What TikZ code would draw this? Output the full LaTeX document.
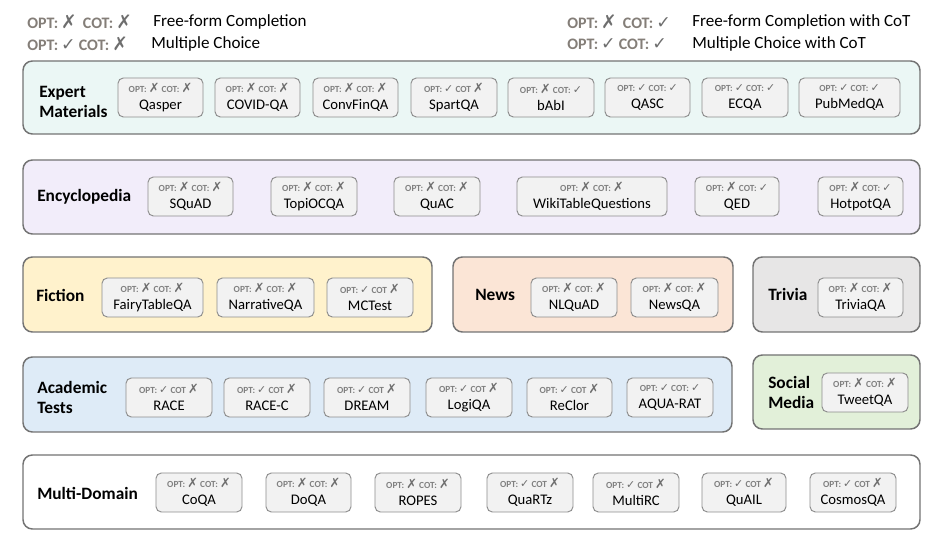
\documentclass[tikz,border=0pt]{standalone}
\usepackage{fontspec}
\setmainfont{Carlito}
\newfontfamily\dejavu{DejaVu Sans}
\definecolor{pborder}{RGB}{115,115,115}
\definecolor{bborder}{RGB}{140,140,140}
\definecolor{bfill}{RGB}{242,242,242}
\definecolor{tagc}{RGB}{128,128,128}
\definecolor{markc}{RGB}{110,110,110}
\definecolor{legc}{RGB}{132,126,120}
\definecolor{fexpert}{RGB}{235,247,245}
\definecolor{fency}{RGB}{242,237,250}
\definecolor{ffic}{RGB}{255,242,204}
\definecolor{fnews}{RGB}{251,229,214}
\definecolor{ftriv}{RGB}{231,230,230}
\definecolor{facad}{RGB}{222,235,247}
\definecolor{fsoc}{RGB}{226,240,217}
% marks in badges
\newcommand\xs{{\color{markc}\dejavu\fontsize{9.6}{8}\selectfont ✗}}
\newcommand\cs{{\color{markc}\dejavu\fontsize{8.2}{8}\selectfont ✓}}
% marks in legend
\newcommand\xl{{\color{markc}\dejavu\fontsize{14}{14}\selectfont ✗}}
\newcommand\cl{{\color{markc}\dejavu\fontsize{13}{14}\selectfont ✓}}
\newcommand\tagtxt[1]{{\fontsize{7}{7}\selectfont\bfseries #1}}
\newcommand\legtxt[1]{{\fontsize{12}{14}\selectfont\bfseries #1}}
\tikzset{
  panel/.style={draw=pborder, line width=1.1pt, rounded corners=7pt},
  dsb/.style={draw=bborder, fill=bfill, line width=0.7pt, rounded corners=4pt,
    align=center, inner sep=0pt, font=\fontsize{11}{12.8}\selectfont},
  catlabel/.style={anchor=west, align=left, font=\fontsize{13}{15}\selectfont\bfseries, inner sep=0pt},
  legtag/.style={anchor=west, text=legc, inner sep=0pt},
  legdesc/.style={anchor=west, font=\fontsize{12.8}{14}\selectfont, inner sep=0pt},
}
\newcommand\dbox[7]{%
  \node[dsb, minimum width={(#4-#2)*0.75pt}, minimum height={(#5-#3)*0.75pt}]
    (#1) at ({(#2+#4)/2},{(#3+#5)/2}) {{\color{tagc}\tagtxt{#6}}\\#7};}
\newcommand\pnl[6]{%
  \node[panel, fill=#6, minimum width={(#4-#2)*0.75pt}, minimum height={(#5-#3)*0.75pt}]
    (#1) at ({(#2+#4)/2},{(#3+#5)/2}) {};}
\begin{document}
\begin{tikzpicture}[x=0.75pt,y=-0.75pt]
\useasboundingbox (0,0) rectangle (940,541);
% legend
\node[legtag] (l1t) at (27,22) {\legtxt{OPT:} \xl\ \ \legtxt{COT:} \xl};
\node[legdesc] (l1d) at (153,22) {Free-form Completion};
\node[legtag] (l2t) at (27,44) {\legtxt{OPT:} \cl\ \legtxt{COT:} \xl};
\node[legdesc] (l2d) at (151,44) {Multiple Choice};
\node[legtag] (l3t) at (567,22) {\legtxt{OPT:} \xl\ \ \legtxt{COT:} \cl};
\node[legdesc] (l3d) at (692,22) {Free-form Completion with CoT};
\node[legtag] (l4t) at (567,44) {\legtxt{OPT:} \cl\ \legtxt{COT:} \cl};
\node[legdesc] (l4d) at (692,44) {Multiple Choice with CoT};

% Expert Materials
\pnl{pexp}{23}{61}{920}{134}{fexpert}
\node[catlabel] (cexp) at (39,102) {Expert\\Materials};
\dbox{qasper}{118}{78}{203}{117}{OPT: \xs\ COT: \xs}{Qasper}
\dbox{covid}{215}{78}{300}{117}{OPT: \xs\ COT: \xs}{COVID-QA}
\dbox{convfin}{313}{78}{398}{117}{OPT: \xs\ COT: \xs}{ConvFinQA}
\dbox{spart}{411}{78}{497}{117}{OPT: \cs\ COT \xs}{SpartQA}
\dbox{babi}{508}{78}{594}{117}{OPT: \xs\ COT: \cs}{bAbI}
\dbox{qasc}{605}{78}{690}{117}{OPT: \cs\ COT: \cs}{QASC}
\dbox{ecqa}{702}{78}{788}{117}{OPT: \cs\ COT: \cs}{ECQA}
\dbox{pubmed}{799}{78}{900}{117}{OPT: \cs\ COT: \cs}{PubMedQA}

% Encyclopedia
\pnl{penc}{23}{160}{920}{234}{fency}
\node[catlabel] (cenc) at (37,197) {Encyclopedia};
\dbox{squad}{148}{177}{233}{216}{OPT: \xs\ COT: \xs}{SQuAD}
\dbox{topi}{271}{177}{357}{216}{OPT: \xs\ COT: \xs}{TopiOCQA}
\dbox{quac}{394}{177}{480}{216}{OPT: \xs\ COT: \xs}{QuAC}
\dbox{wiki}{517}{177}{667}{216}{OPT: \xs\ COT: \xs}{WikiTableQuestions}
\dbox{qed}{695}{177}{779}{216}{OPT: \xs\ COT: \cs}{QED}
\dbox{hotpot}{818}{177}{903}{216}{OPT: \xs\ COT: \cs}{HotpotQA}

% Fiction
\pnl{pfic}{23}{257}{432}{332}{ffic}
\node[catlabel] (cfic) at (36,295) {Fiction};
\dbox{fairy}{102}{278}{203}{317}{OPT: \xs\ COT: \xs}{FairyTableQA}
\dbox{narr}{217}{278}{314}{317}{OPT: \xs\ COT: \xs}{NarrativeQA}
\dbox{mctest}{327}{278}{413}{317}{OPT: \cs\ COT \xs}{MCTest}

% News
\pnl{pnews}{453}{257}{733}{332}{fnews}
\node[catlabel] (cnews) at (475,295) {News};
\dbox{nlquad}{531}{278}{617}{317}{OPT: \xs\ COT: \xs}{NLQuAD}
\dbox{newsqa}{631}{278}{718}{317}{OPT: \xs\ COT: \xs}{NewsQA}

% Trivia
\pnl{ptriv}{753}{257}{920}{332}{ftriv}
\node[catlabel] (ctriv) at (768,294) {Trivia};
\dbox{trivqa}{818}{278}{903}{317}{OPT: \xs\ COT: \xs}{TriviaQA}

% Academic Tests
\pnl{pacad}{23}{357}{732}{432}{facad}
\node[catlabel] (cacad) at (37,397) {Academic\\Tests};
\dbox{race}{126}{378}{212}{417}{OPT: \cs\ COT \xs}{RACE}
\dbox{racec}{224}{378}{310}{417}{OPT: \cs\ COT \xs}{RACE-C}
\dbox{dream}{324}{378}{410}{417}{OPT: \cs\ COT \xs}{DREAM}
\dbox{logiqa}{426}{378}{512}{417}{OPT: \cs\ COT \xs}{LogiQA}
\dbox{reclor}{527}{378}{612}{417}{OPT: \cs\ COT \xs}{ReClor}
\dbox{aqua}{627}{378}{713}{417}{OPT: \cs\ COT: \cs}{AQUA-RAT}

% Social Media
\pnl{psoc}{753}{355}{920}{429}{fsoc}
\node[catlabel] (csoc) at (768,392) {Social\\Media};
\dbox{tweet}{822}{373}{908}{412}{OPT: \xs\ COT: \xs}{TweetQA}

% Multi-Domain
\pnl{pmulti}{23}{455}{920}{529}{white}
\node[catlabel] (cmulti) at (37,493) {Multi-Domain};
\dbox{coqa}{156}{473}{242}{512}{OPT: \xs\ COT: \xs}{CoQA}
\dbox{doqa}{266}{473}{351}{512}{OPT: \xs\ COT: \xs}{DoQA}
\dbox{ropes}{375}{473}{461}{512}{OPT: \xs\ COT: \xs}{ROPES}
\dbox{quartz}{487}{473}{573}{512}{OPT: \cs\ COT \xs}{QuaRTz}
\dbox{multirc}{593}{473}{679}{512}{OPT: \cs\ COT \xs}{MultiRC}
\dbox{quail}{702}{473}{786}{512}{OPT: \cs\ COT \xs}{QuAIL}
\dbox{cosmos}{810}{473}{896}{512}{OPT: \cs\ COT \xs}{CosmosQA}
\end{tikzpicture}
\end{document}
